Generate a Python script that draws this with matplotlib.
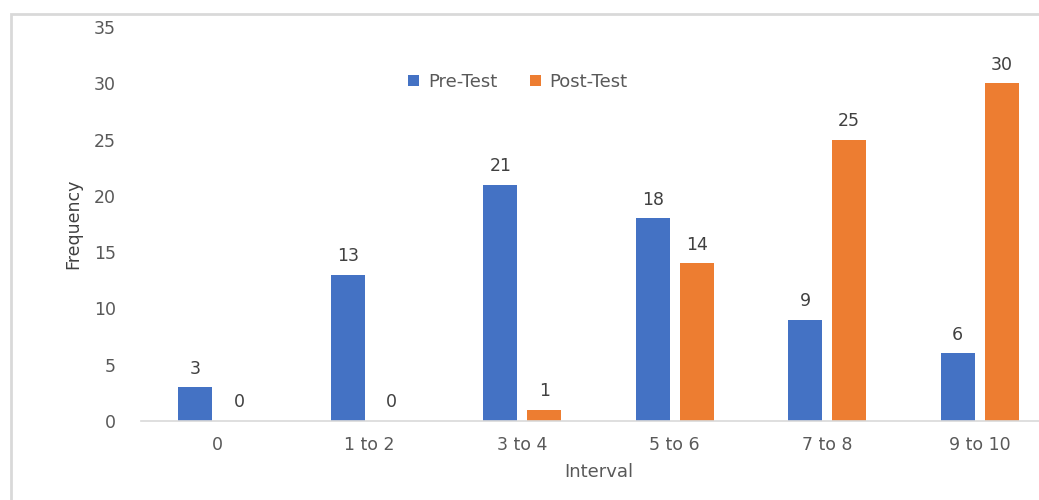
import matplotlib.pyplot as plt
from matplotlib.patches import Rectangle
import numpy as np

# Data
intervals = ['0', '1 to 2', '3 to 4', '5 to 6', '7 to 8', '9 to 10']
pre_test = [3, 13, 21, 18, 9, 6]
post_test = [0, 0, 1, 14, 25, 30]

blue = '#4472C4'
orange = '#ED7D31'
grey = '#595959'

plt.rcParams['font.family'] = ['DejaVu Sans']

W, H = 1039, 500
fig = plt.figure(figsize=(W / 100, H / 100), dpi=100)

# light border of the chart area (cropped on right/bottom)
fig.patches.append(Rectangle((11 / W, -0.1), 1.2, 1 - 14 / H + 0.1,
                             transform=fig.transFigure, fill=False,
                             edgecolor='#D9D9D9', linewidth=2))

# plot area runs past the right edge of the picture
ax = fig.add_axes([141 / W, 1 - 421 / H, (1056 - 141) / W, (421 - 27) / H])

x = np.arange(len(intervals))
bw = 0.223
off = 0.144
b1 = ax.bar(x - off, pre_test, bw, color=blue, label='Pre-Test')
b2 = ax.bar(x + off, post_test, bw, color=orange, label='Post-Test')

for bars in (b1, b2):
    ax.bar_label(bars, padding=7, fontsize=12.5, color='#404040')

ax.set_xlim(-0.5, len(intervals) - 0.5)
ax.set_ylim(0, 35)
ax.set_yticks(range(0, 36, 5))
ax.set_xticks(x)
ax.set_xticklabels(intervals)
ax.tick_params(axis='both', length=0, labelsize=12.5, colors=grey)
ax.tick_params(axis='y', pad=18)
ax.tick_params(axis='x', pad=11)

for s in ('top', 'right', 'left'):
    ax.spines[s].set_visible(False)
ax.spines['bottom'].set_color('#D9D9D9')
ax.spines['bottom'].set_linewidth(1.2)

ax.set_xlabel('Interval', fontsize=13, color=grey, labelpad=6)
fig.text(73 / W, 1 - 224 / H, 'Frequency', rotation=90, ha='center', va='center',
         fontsize=12.5, color='#404040',
         family=['Liberation Sans Narrow', 'DejaVu Sans'])

fig.legend(loc='center', bbox_to_anchor=(518 / W, 1 - 82 / H), ncol=2,
           frameon=False, fontsize=13, labelcolor=grey, handlelength=0.6,
           handleheight=0.6, columnspacing=1.8, handletextpad=0.5)

fig.savefig('out.png', dpi=100)
